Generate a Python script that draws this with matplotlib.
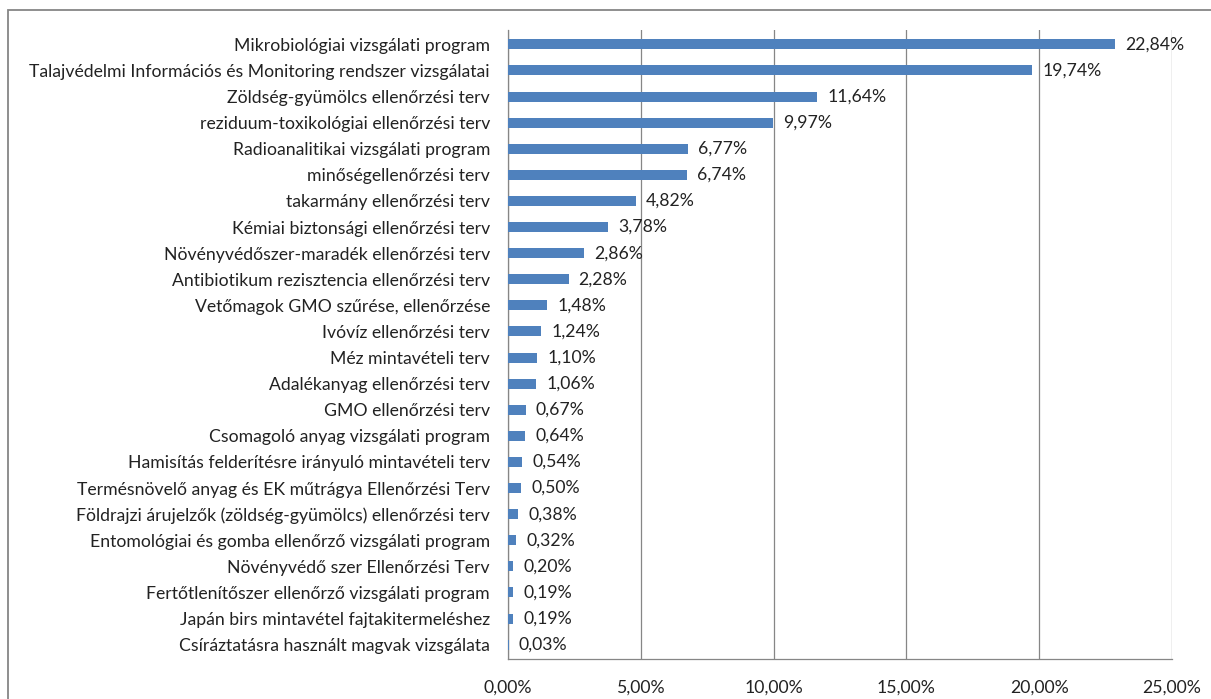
import matplotlib.pyplot as plt
from matplotlib.patches import Rectangle
from matplotlib.ticker import FuncFormatter

categories = [
    "Mikrobiológiai vizsgálati program",
    "Talajvédelmi Információs és Monitoring rendszer vizsgálatai",
    "Zöldség-gyümölcs ellenőrzési terv",
    "reziduum-toxikológiai ellenőrzési terv",
    "Radioanalitikai vizsgálati program",
    "minőségellenőrzési terv",
    "takarmány ellenőrzési terv",
    "Kémiai biztonsági ellenőrzési terv",
    "Növényvédőszer-maradék ellenőrzési terv",
    "Antibiotikum rezisztencia ellenőrzési terv",
    "Vetőmagok GMO szűrése, ellenőrzése",
    "Ivóvíz ellenőrzési terv",
    "Méz mintavételi terv",
    "Adalékanyag ellenőrzési terv",
    "GMO ellenőrzési terv",
    "Csomagoló anyag vizsgálati program",
    "Hamisítás felderítésre irányuló mintavételi terv",
    "Termésnövelő anyag és EK műtrágya Ellenőrzési Terv",
    "Földrajzi árujelzők (zöldség-gyümölcs) ellenőrzési terv",
    "Entomológiai és gomba ellenőrző vizsgálati program",
    "Növényvédő szer Ellenőrzési Terv",
    "Fertőtlenítőszer ellenőrző vizsgálati program",
    "Japán birs mintavétel fajtakitermeléshez",
    "Csíráztatásra használt magvak vizsgálata",
]
values = [22.84, 19.74, 11.64, 9.97, 6.77, 6.74, 4.82, 3.78, 2.86, 2.28,
          1.48, 1.24, 1.10, 1.06, 0.67, 0.64, 0.54, 0.50, 0.38, 0.32,
          0.20, 0.19, 0.19, 0.03]
xticks = [0, 5, 10, 15, 20, 25]

plt.rcParams['font.family'] = ['Lato', 'DejaVu Sans']

fig = plt.figure(figsize=(12.11, 6.99), dpi=100)
ax = fig.add_axes([508 / 1211, 1 - 659 / 699, (1172 - 508) / 1211, (659 - 30) / 699])

# outer chart frame
fig.patches.append(Rectangle((8 / 1211, -0.05), 1.1, 1 - 10 / 699 + 0.05,
                             transform=fig.transFigure, fill=False,
                             edgecolor='#868686', linewidth=1.3))

fs = 12.7
y = list(range(len(categories)))
ax.barh(y, values, height=0.38, color='#4F81BD', zorder=3)
for yi, v in zip(y, values):
    ax.text(v + 0.38, yi, f"{v:.2f}%".replace('.', ','), va='center',
            ha='left', fontsize=fs, color='#222222', zorder=4)

ax.set_yticks(y)
ax.set_yticklabels(categories, fontsize=fs, color='#222222')
ax.set_ylim(len(categories) - 0.45, -0.55)
ax.set_xlim(0, 25)
ax.set_xticks(xticks)
ax.xaxis.set_major_formatter(FuncFormatter(lambda v, p: f"{v:.2f}%".replace('.', ',')))
ax.tick_params(axis='x', length=0, pad=15, labelsize=fs, labelcolor='#222222')
ax.tick_params(axis='y', length=0, pad=13)
ax.grid(axis='x', color='#868686', linewidth=0.9, zorder=0)
for s in ['top', 'right']:
    ax.spines[s].set_visible(False)
for s in ['left', 'bottom']:
    ax.spines[s].set_color('#868686')
    ax.spines[s].set_linewidth(0.9)

fig.savefig('out.png', dpi=100)
